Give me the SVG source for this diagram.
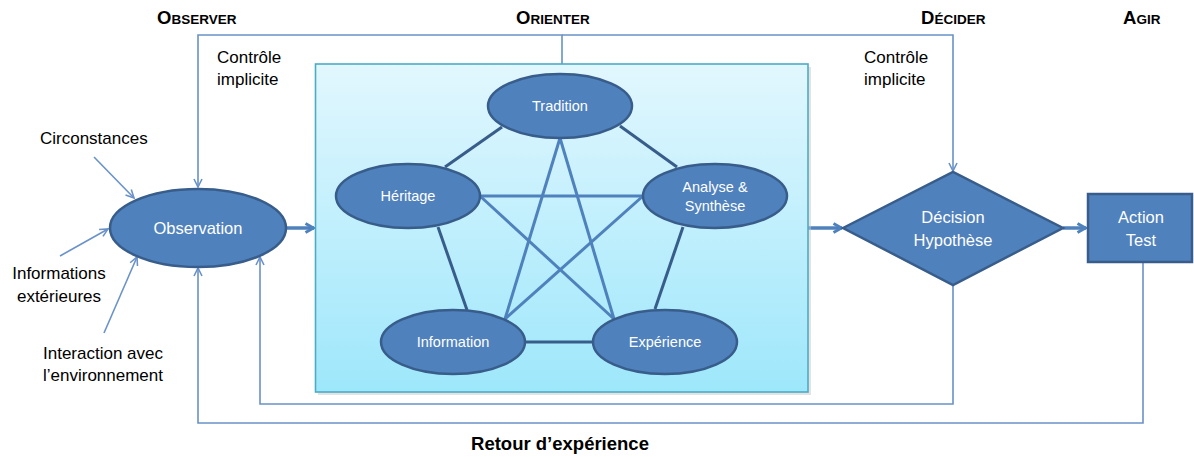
<svg xmlns="http://www.w3.org/2000/svg" width="1194" height="457" viewBox="0 0 1194 457">
<style>
.hd{font-family:"Liberation Sans",Arial,sans-serif;font-weight:bold;fill:#000}
.lbl{font-family:"Liberation Sans",Arial,sans-serif;font-size:17px;fill:#000}
.nt{font-family:"Liberation Sans",Arial,sans-serif;font-size:16.5px;fill:#fff;text-anchor:middle}
.st{font-family:"Liberation Sans",Arial,sans-serif;font-size:14.5px;fill:#fff;text-anchor:middle}
.node{fill:#4F81BD;stroke:#385D8A;stroke-width:2.5}
.thin{fill:none;stroke:#6A92C8;stroke-width:1.6}
.thick{fill:none;stroke:#4F81BD;stroke-width:3.5}
.pent{stroke:#385D8A;stroke-width:3;fill:none}
.star{stroke:#4F81BD;stroke-width:3;fill:none}
</style>
<defs>
<linearGradient id="bg" x1="0" y1="0" x2="0" y2="1">
<stop offset="0" stop-color="#E2F7FE"/>
<stop offset="1" stop-color="#9EE7FB"/>
</linearGradient>
<marker id="ah" viewBox="0 0 10 10" refX="9" refY="5" markerWidth="10" markerHeight="10" markerUnits="userSpaceOnUse" orient="auto">
<path d="M1,1 L9,5 L1,9" fill="none" stroke="#6A92C8" stroke-width="1.6"/>
</marker>
<marker id="ahT" viewBox="0 0 12 12" refX="10.5" refY="6" markerWidth="12" markerHeight="12" markerUnits="userSpaceOnUse" orient="auto">
<path d="M2,1.5 L10,6 L2,10.5" fill="none" stroke="#4F81BD" stroke-width="3"/>
</marker>
</defs>

<g id="headers">
<text class="hd" x="157" y="24"><tspan font-size="18.5">O</tspan><tspan font-size="13.5">BSERVER</tspan></text>
<text class="hd" x="516" y="24"><tspan font-size="18.5">O</tspan><tspan font-size="13.5">RIENTER</tspan></text>
<text class="hd" x="921" y="24"><tspan font-size="18.5">D</tspan><tspan font-size="13.5">ÉCIDER</tspan></text>
<text class="hd" x="1123" y="24"><tspan font-size="18.5">A</tspan><tspan font-size="13.5">GIR</tspan></text>
<text class="hd" x="560" y="450" font-size="18.5" text-anchor="middle">Retour d’expérience</text>
</g>

<g id="labels">
<text class="lbl" x="217" y="63">Contrôle</text>
<text class="lbl" x="217" y="85">implicite</text>
<text class="lbl" x="864" y="63">Contrôle</text>
<text class="lbl" x="864" y="85">implicite</text>
<text class="lbl" x="40" y="144">Circonstances</text>
<text class="lbl" x="59" y="279" text-anchor="middle">Informations</text>
<text class="lbl" x="59" y="302" text-anchor="middle">extérieures</text>
<text class="lbl" x="103" y="359" text-anchor="middle">Interaction avec</text>
<text class="lbl" x="103" y="381" text-anchor="middle">l’environnement</text>
</g>

<g id="connectors">
<path class="thin" d="M562,64 V35 H198 V187" marker-end="url(#ah)"/>
<path class="thin" d="M562,35 H953 V171" marker-end="url(#ah)"/>
<path class="thin" d="M953,285 V404 H260 V257" marker-end="url(#ah)"/>
<path class="thin" d="M1143,262 V423 H198 V268" marker-end="url(#ah)"/>
<path class="thin" d="M94,157 L134,198" marker-end="url(#ah)"/>
<path class="thin" d="M60,256 L108,229" marker-end="url(#ah)"/>
<path class="thin" d="M104,333 L137,257" marker-end="url(#ah)"/>
<path class="thick" d="M287,228 H314" marker-end="url(#ahT)"/>
<path class="thick" d="M808,228 H842" marker-end="url(#ahT)"/>
<path class="thick" d="M1063,228 H1086" marker-end="url(#ahT)"/>
</g>

<g id="orienter">
<rect x="318" y="67" width="493" height="328" fill="#C8C8C8" opacity="0.5"/>
<rect x="315.5" y="64" width="492.5" height="328" fill="url(#bg)" stroke="#4BACC6" stroke-width="1.6"/>
<g id="orient-links">
<line class="pent" x1="502" y1="127" x2="445" y2="167"/>
<line class="pent" x1="620" y1="126" x2="677" y2="167"/>
<line class="pent" x1="438" y1="227" x2="467" y2="310"/>
<line class="pent" x1="683" y1="227" x2="655" y2="309"/>
<line class="pent" x1="526" y1="342" x2="593" y2="342"/>
<line class="star" x1="560" y1="138" x2="505" y2="319"/>
<line class="star" x1="560" y1="138" x2="614" y2="319"/>
<line class="star" x1="480" y1="196" x2="643" y2="196"/>
<line class="star" x1="480" y1="196" x2="614" y2="319"/>
<line class="star" x1="643" y1="196" x2="505" y2="319"/>
</g>
<g id="n-tradition"><ellipse class="node" cx="560" cy="106" rx="72" ry="32"/><text class="st" x="560" y="111">Tradition</text></g>
<g id="n-heritage"><ellipse class="node" cx="408" cy="196" rx="72" ry="32"/><text class="st" x="408" y="201">Héritage</text></g>
<g id="n-analyse"><ellipse class="node" cx="715" cy="196" rx="72" ry="32"/><text class="st" x="715" y="192">Analyse &amp;</text><text class="st" x="715" y="211">Synthèse</text></g>
<g id="n-information"><ellipse class="node" cx="453" cy="342" rx="72" ry="32"/><text class="st" x="453" y="347">Information</text></g>
<g id="n-experience"><ellipse class="node" cx="665" cy="342" rx="72" ry="32"/><text class="st" x="665" y="347">Expérience</text></g>
</g>

<g id="n-observation"><ellipse class="node" cx="198" cy="228" rx="88" ry="39"/><text class="nt" x="198" y="234">Observation</text></g>
<g id="n-decision"><polygon class="node" points="843,228 953,172 1063,228 953,285"/><text class="nt" x="953" y="223">Décision</text><text class="nt" x="953" y="246">Hypothèse</text></g>
<g id="n-action"><rect class="node" x="1088" y="194" width="104" height="68"/><text class="nt" x="1141" y="223">Action</text><text class="nt" x="1141" y="246">Test</text></g>
</svg>
